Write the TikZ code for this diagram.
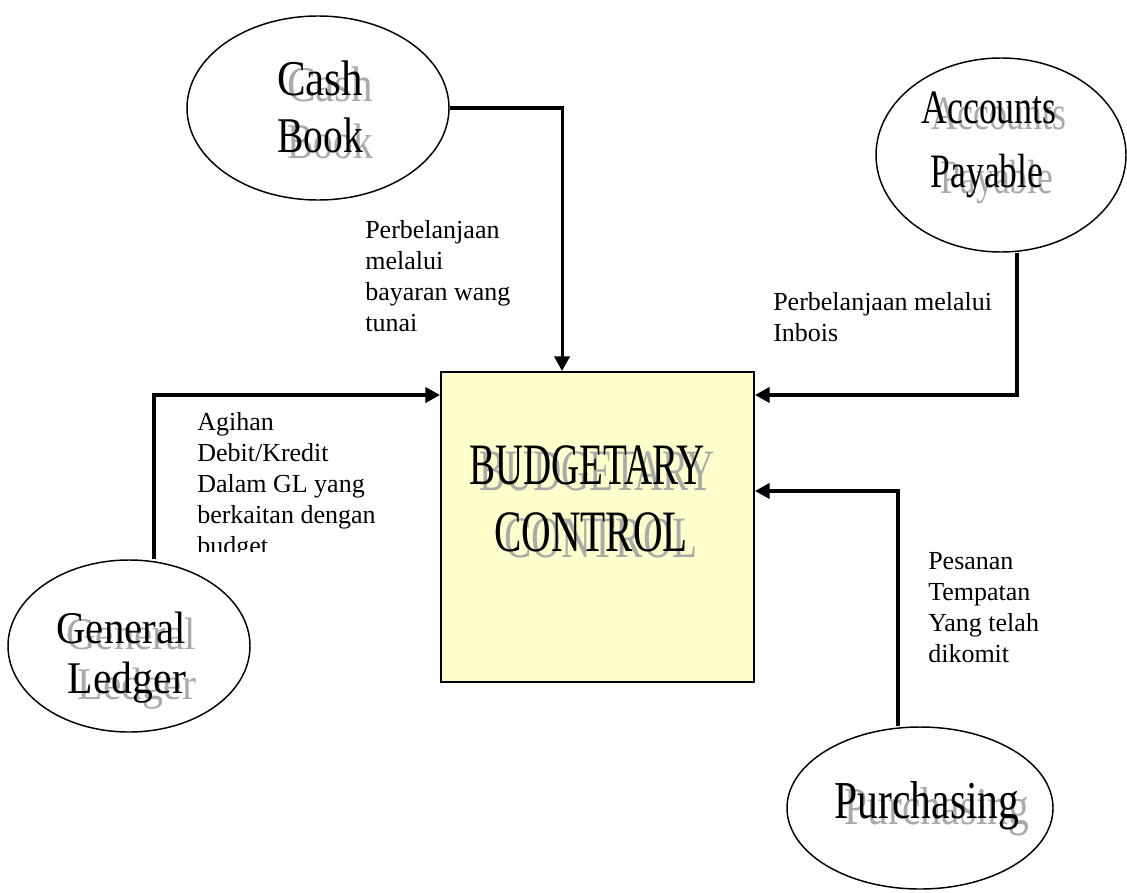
\documentclass[tikz,border=0pt]{standalone}
\usepackage{fontspec}
\setmainfont{Liberation Serif}
\usetikzlibrary{shapes.geometric,arrows.meta}
\definecolor{boxfill}{HTML}{FFFFCC}
\definecolor{shadowgray}{RGB}{170,170,170}
\newcommand\wordart[6]{%
  \node[text=shadowgray, anchor=base, inner sep=0pt, font=\fontsize{#4}{#4}\selectfont, xshift=7.5pt, yshift=-4.5pt] (#1s) at (#2,#3) {\scalebox{#5}[1]{#6}};
  \node[text=black, anchor=base, inner sep=0pt, font=\fontsize{#4}{#4}\selectfont] (#1) at (#2,#3) {\scalebox{#5}[1]{#6}};
}
\begin{document}
\begin{tikzpicture}[x=0.75pt,y=-0.75pt,
  ell/.style={draw, line width=1.1pt, ellipse, inner sep=0pt},
  procbox/.style={draw, line width=1.5pt, fill=boxfill, rectangle, inner sep=0pt},
  conn/.style={line width=2.3pt, -{Triangle[length=11pt,width=11.5pt]}},
  lbl/.style={anchor=base west, align=left, inner sep=0pt, font=\fontsize{19.5pt}{23.25pt}\selectfont}]
\useasboundingbox (0,0) rectangle (1127,892);

% shapes
\node[ell, minimum width=196.5pt, minimum height=138pt] (cash) at (318,108) {};
\node[ell, minimum width=187.5pt, minimum height=145.5pt] (ap) at (1001,155) {};
\node[ell, minimum width=181.5pt, minimum height=129pt] (gl) at (129,646) {};
\node[ell, minimum width=199.5pt, minimum height=121.5pt] (pur) at (920,808) {};
\node[procbox, minimum width=234.75pt, minimum height=232.5pt] (box) at (597.5,527) {};

% word-art titles
\wordart{cashA}{320}{95}{37.5pt}{0.86}{Cash}
\wordart{cashB}{320}{152}{37.5pt}{0.79}{Book}
\wordart{apA}{989}{123}{36pt}{0.745}{Accounts}
\wordart{apB}{987}{187}{36pt}{0.74}{Payable}
\wordart{glA}{121}{643}{34pt}{0.9}{General}
\wordart{glB}{127}{693}{34pt}{0.92}{Ledger}
\wordart{purA}{927}{818}{40pt}{0.78}{Purchasing}
\wordart{boxA}{587}{484}{44pt}{0.665}{BUDGETARY}
\wordart{boxB}{591}{551}{44pt}{0.70}{CONTROL}

% connectors
\draw[conn] (cash.east) -| ([xshift=-26.6pt]box.north);
\draw[conn] ([xshift=12pt]ap.south) |- ([yshift=99pt]box.east);
\draw[conn] ([xshift=18.75pt]gl.north) |- ([yshift=99pt]box.west);
\draw[conn] ([xshift=-16.5pt]pur.north) |- ([yshift=27pt]box.east);

% labels (anchor base = baseline of the last line)
\node[lbl] (lcash) at (365,331) {Perbelanjaan\\melalui\\bayaran wang\\tunai};
\node[lbl] (lap) at (773,341) {Perbelanjaan melalui\\Inbois};
\begin{scope}
\clip (160,400) rectangle (438,551);
\node[lbl] (lgl) at (197,554) {Agihan\\Debit/Kredit\\Dalam GL yang\\berkaitan dengan\\budget};
\end{scope}
\node[lbl] (lpur) at (928,662) {Pesanan\\Tempatan\\Yang telah\\dikomit};
\end{tikzpicture}
\end{document}
